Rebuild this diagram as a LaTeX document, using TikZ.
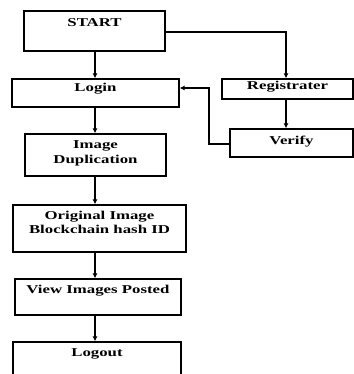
\documentclass[tikz,border=0pt]{standalone}
\usepackage{fontspec}
\setmainfont{Liberation Serif}[FakeStretch=1.4]
\usetikzlibrary{arrows.meta}
\begin{document}
\begin{tikzpicture}[x=1pt,y=-1pt,
  box/.style={draw=black,line width=1.3pt,fill=white,inner sep=0pt},
  txt/.style={anchor=base,inner sep=0pt,align=center,font=\fontsize{12}{14}\selectfont\bfseries},
  conn/.style={draw=black,line width=1.2pt,-{Latex[length=5pt,width=5pt]}}]
\useasboundingbox[fill=white] (0,0) rectangle (353,374);
% boxes
\node[box,minimum width=141pt,minimum height=40pt] (start) at (94.5,31) {};
\node[box,minimum width=167pt,minimum height=28pt] (login) at (95.5,93) {};
\node[box,minimum width=131pt,minimum height=20pt] (reg) at (287.5,89) {};
\node[box,minimum width=123pt,minimum height=28pt] (verify) at (291.5,143) {};
\node[box,minimum width=141pt,minimum height=42pt] (dup) at (95.5,155) {};
\node[box,minimum width=173pt,minimum height=47pt] (orig) at (99.5,228.5) {};
\node[box,minimum width=166pt,minimum height=36pt] (view) at (98,297) {};
\node[box,minimum width=168pt,minimum height=34pt] (logout) at (97,359) {};
% texts
\node[txt] (startT) at (94.5,27) {START};
\node[txt] (loginT) at (95.5,92) {Login};
\node[txt] (regT) at (287.5,90) {Registrater};
\node[txt] (verifyT) at (291.5,145) {Verify};
\node[txt] (dupT) at (95.5,163) {Image\\Duplication};
\node[txt] (origT) at (99.5,233) {Original Image\\Blockchain hash ID};
\node[txt] (viewT) at (98,293) {View Images Posted};
\node[txt] (logoutT) at (97,356) {Logout};
% connectors
\draw[conn] (start.south -| 95,0) -- (login.north -| 95,0);
\draw[conn] (login.south -| 95,0) -- (dup.north -| 95,0);
\draw[conn] (dup.south -| 95,0) -- (orig.north -| 95,0);
\draw[conn] (orig.south -| 95,0) -- (view.north -| 95,0);
\draw[conn] (view.south -| 95,0) -- (logout.north -| 95,0);
\draw[conn] (start.east |- 0,32) -| (reg.north -| 286,0);
\draw[conn] (reg.south -| 286,0) -- (verify.north -| 286,0);
\draw[conn] (verify.west |- 0,144) -- (209,144) |- (login.east |- 0,88);
\end{tikzpicture}
\end{document}
